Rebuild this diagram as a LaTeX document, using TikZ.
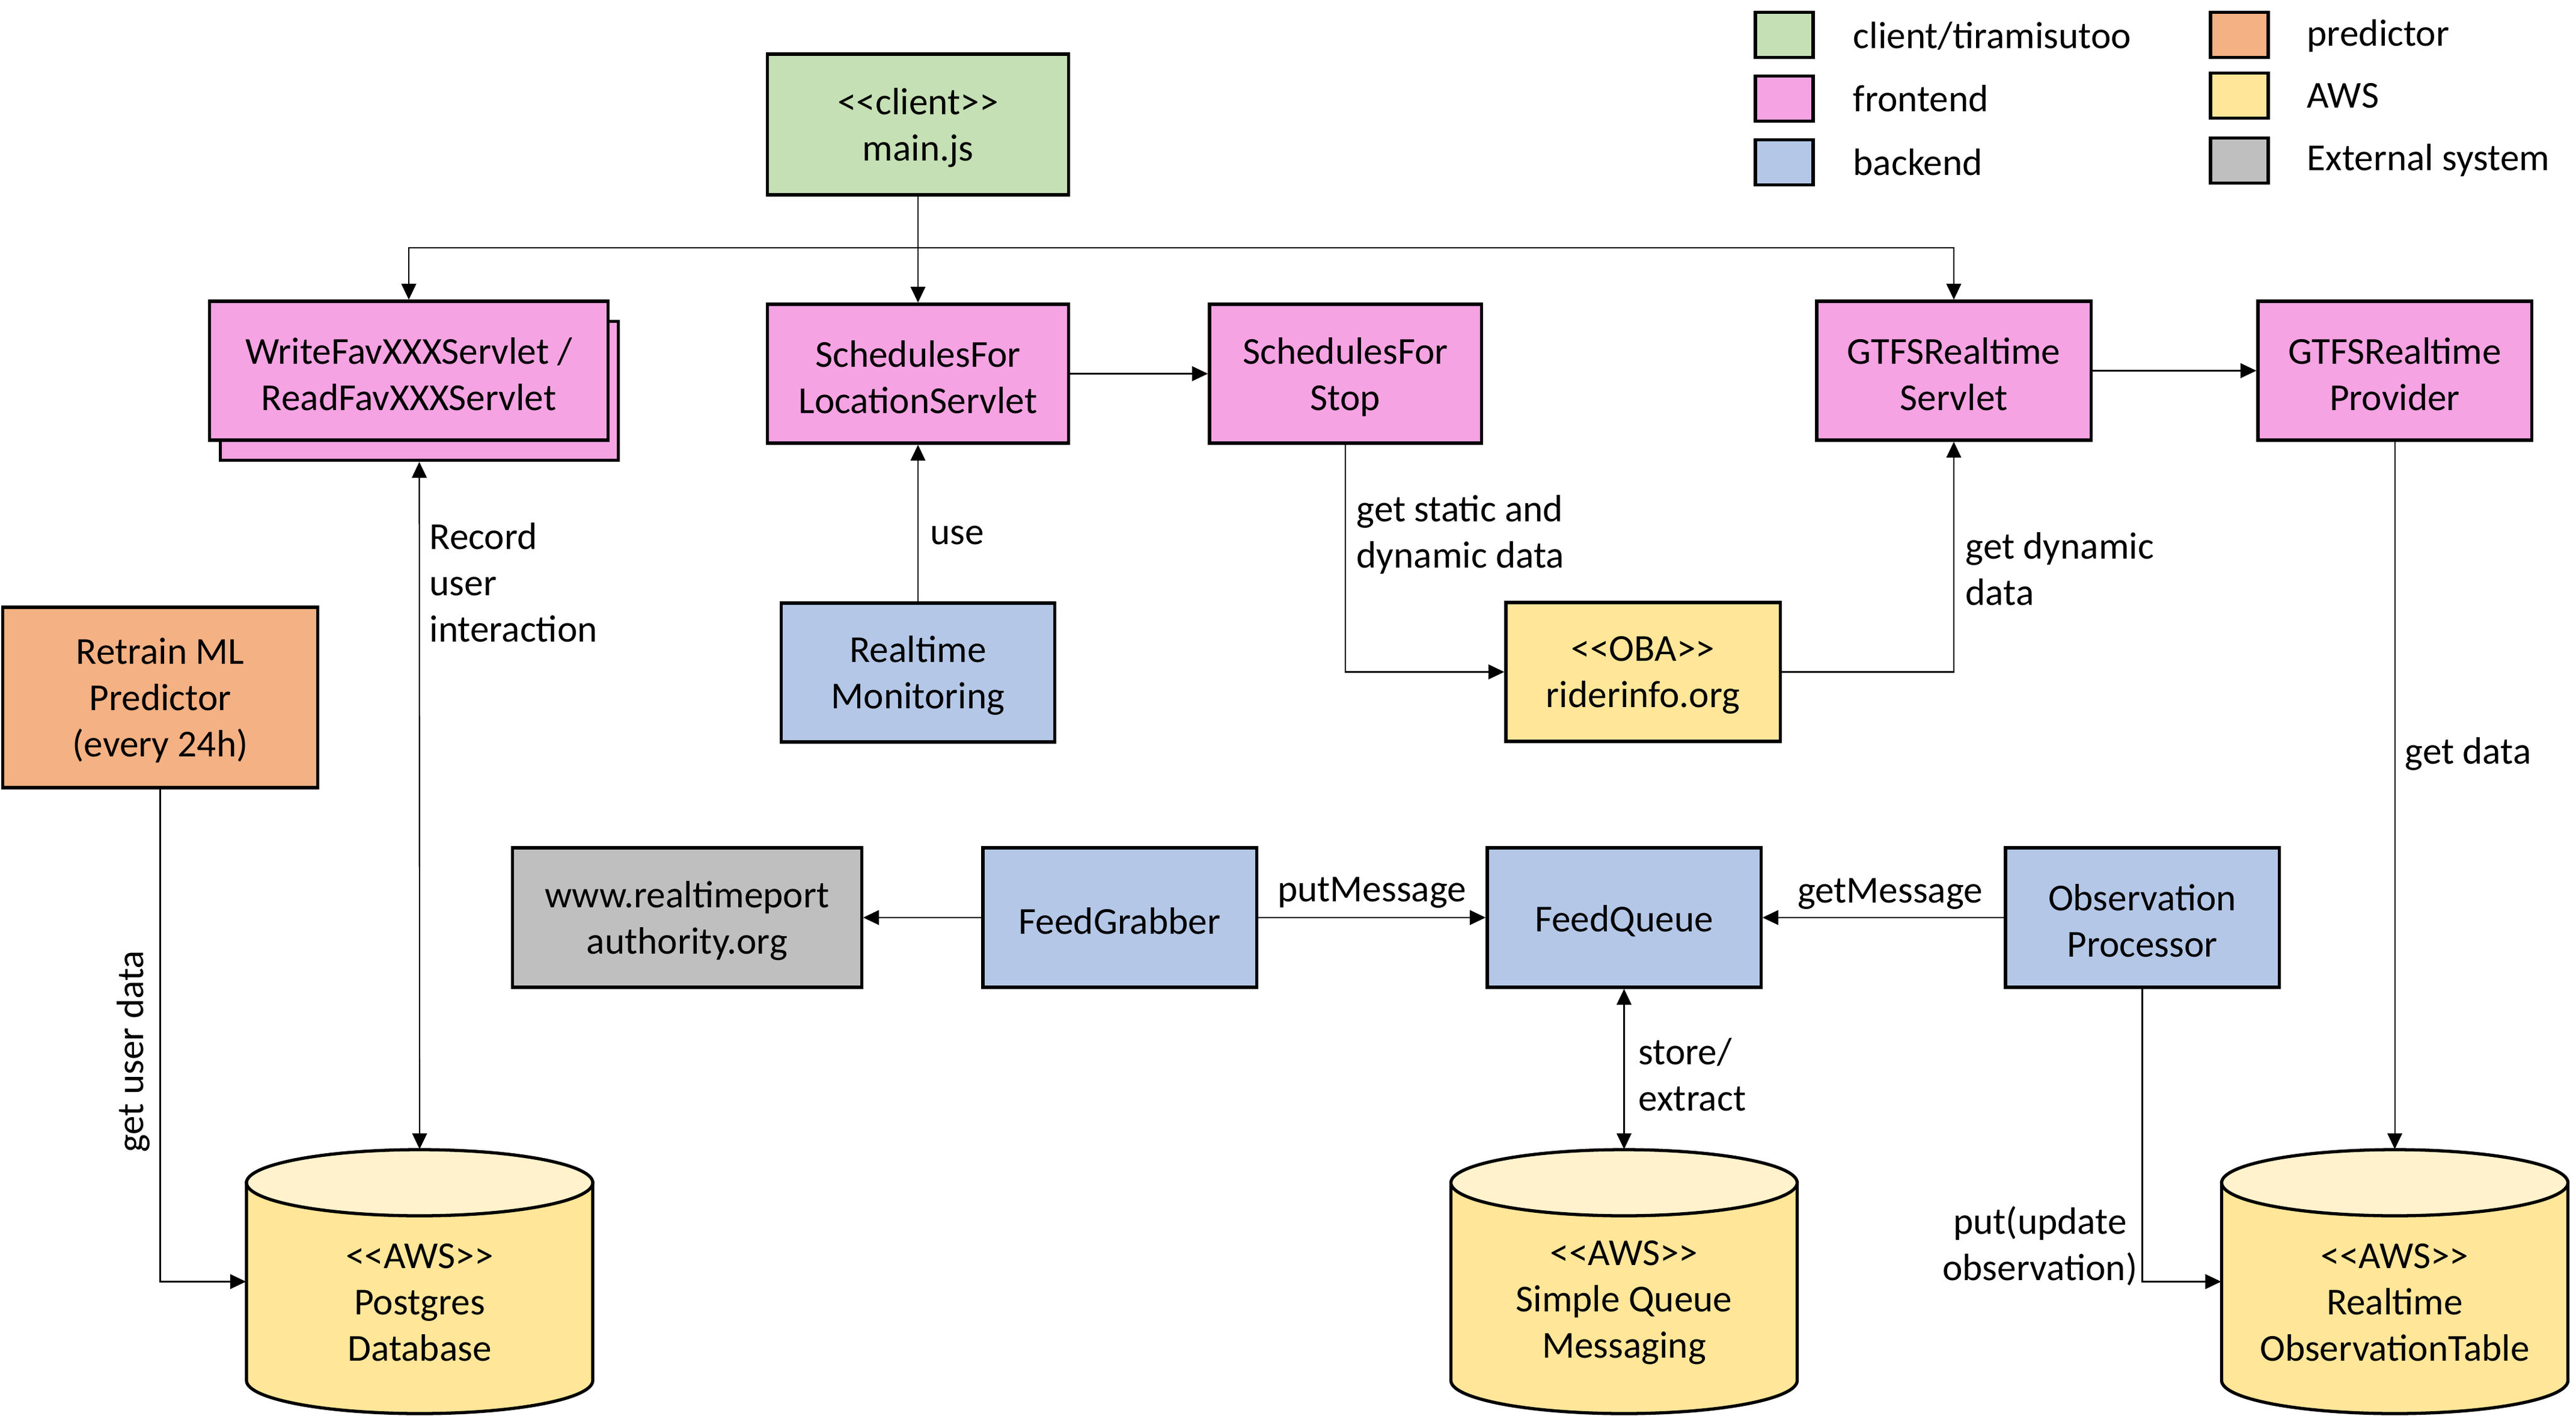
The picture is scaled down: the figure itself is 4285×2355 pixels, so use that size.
\documentclass[tikz,border=0pt]{standalone}
\usepackage{fontspec}
\setmainfont{Carlito}
\usetikzlibrary{arrows.meta}
\definecolor{cgreen}{HTML}{C5E0B4}
\definecolor{cpink}{HTML}{F5A3E3}
\definecolor{cblue}{HTML}{B4C7E7}
\definecolor{corange}{HTML}{F4B183}
\definecolor{cyellow}{HTML}{FFE699}
\definecolor{cyellowtop}{HTML}{FFF2CC}
\definecolor{cgray}{HTML}{BFBFBF}
\newcommand\dlt{<\kern0pt<}
\newcommand\dgt{>\kern0pt>}
\newcommand\dbcyl[1]{%
 \draw[line width=1.5pt, fill=cyellow] ({#1-288},1967) -- ({#1-288},2296) .. controls ({#1-288},2326.4) and ({#1-159},2351) .. (#1,2351) .. controls ({#1+159},2351) and ({#1+288},2326.4) .. ({#1+288},2296) -- ({#1+288},1967) -- cycle;
 \draw[line width=1.5pt, fill=cyellowtop] (#1,1967) ellipse [x radius=288, y radius=55];}
% box with separately placed text: #1 style, #2 name, #3 position, #4 text
\newcommand\bx[4]{\node[box,#1] (#2) at (#3) {}; \node[txt] (#2t) at (#2) {#4};}
\begin{document}
\begin{tikzpicture}[x=0.01cm, y=-0.01cm,
  every node/.style={font=\fontsize{18}{21.9}\selectfont, inner sep=0pt, align=center},
  txt/.style={yshift=-1.5pt},
  box/.style={draw, line width=1.5pt, minimum height=2.31cm, minimum width=4.55cm},
  conn/.style={line width=0.6pt},
  arr/.style={conn, -{Triangle[length=7.5pt,width=7pt]}},
  darr/.style={conn, {Triangle[length=7.5pt,width=7pt]}-{Triangle[length=7.5pt,width=7pt]}},
  lbl/.style={txt, align=left, anchor=west},
  legbox/.style={draw, line width=1.5pt, minimum width=0.96cm, minimum height=0.75cm},
  cylarea/.style={minimum width=5.76cm, minimum height=4.39cm}]
\useasboundingbox (0,0) rectangle (4285,2355);

% legend
\node[legbox, fill=cgreen] (lg1) at (2968,58) {};
\node[legbox, fill=cpink] (lg2) at (2968,164) {};
\node[legbox, fill=cblue] (lg3) at (2968,270) {};
\node[legbox, fill=corange] (lg4) at (3725,58) {};
\node[legbox, fill=cyellow] (lg5) at (3725,159) {};
\node[legbox, fill=cgray] (lg6) at (3725,267) {};
\node[align=left, anchor=west] (lt1) at (3082,60) {client/tiramisutoo};
\node[align=left, anchor=west] (lt2) at (3082,164) {frontend};
\node[align=left, anchor=west] (lt3) at (3082,270) {backend};
\node[align=left, anchor=west] (lt4) at (3837,60) {predictor};
\node[align=left, anchor=west] (lt5) at (3837,159) {AWS};
\node[align=left, anchor=west] (lt6) at (3837,267) {External system};

% boxes
\bx{fill=cgreen, minimum width=5.01cm, minimum height=2.34cm}{main}{1527,207}{\dlt client\dgt\\main.js}
\node[box, fill=cpink, minimum width=6.61cm] (wback) at (697.5,650) {};
\bx{fill=cpink, minimum width=6.62cm}{wfront}{680,616.5}{WriteFavXXXServlet /\\ReadFavXXXServlet}
\bx{fill=cpink, minimum width=5.01cm}{sloc}{1527,621.5}{SchedulesFor\\LocationServlet}
\bx{fill=cpink, minimum width=4.52cm}{sstop}{2238,621.5}{SchedulesFor\\Stop}
\bx{fill=cpink, minimum width=4.56cm}{gserv}{3250,616.5}{GTFSRealtime\\Servlet}
\bx{fill=cpink}{gprov}{3983.5,616.5}{GTFSRealtime\\Provider}
\bx{fill=cblue}{rtmon}{1527,1118.5}{Realtime\\Monitoring}
\bx{fill=corange, minimum width=5.23cm, minimum height=3.0cm}{retrain}{266.5,1160}{Retrain ML\\Predictor\\(every 24h)}
\bx{fill=cyellow, minimum width=4.56cm}{rider}{2733,1117.5}{\dlt OBA\dgt\\riderinfo.org}
\bx{fill=cgray, minimum width=5.8cm, minimum height=2.32cm}{www}{1143,1526}{www.realtimeport\\authority.org}
\bx{fill=cblue, minimum height=2.32cm}{fg}{1862.5,1526}{FeedGrabber}
\bx{fill=cblue, minimum height=2.32cm}{fq}{2701.5,1526}{FeedQueue}
\bx{fill=cblue, minimum height=2.32cm}{op}{3563.5,1526}{Observation\\Processor}

% cylinders
\dbcyl{698}
\dbcyl{2701.5}
\dbcyl{3983.5}
\node[cylarea] (pg) at (698,2131.5) {};
\node[cylarea] (sqs) at (2701.5,2131.5) {};
\node[cylarea] (rtobs) at (3983.5,2131.5) {};
\node[txt] (pgt) at (698,2161) {\dlt AWS\dgt\\Postgres\\Database};
\node[txt] (sqst) at (2701.5,2161) {\dlt AWS\dgt\\Simple Queue\\Messaging};
\node[txt] (rtobst) at (3983.5,2161) {\dlt AWS\dgt\\Realtime\\ObservationTable};

% connectors
\coordinate (bus) at (1527,412);
\draw[conn] (main.south) -- (bus);
\draw[arr] (bus) -| (wfront.north);
\draw[arr] (bus) -- (sloc.north);
\draw[arr] (bus) -| (gserv.north);
\draw[arr] (sloc.east) -- (sstop.west);
\draw[arr] (rtmon.north) -- (sloc.south);
\draw[arr] (sstop.south) |- (rider.west);
\draw[arr] (rider.east) -| (gserv.south);
\draw[arr] (gserv.east) -- (gprov.west);
\draw[arr] (gprov.south) -- (rtobs.north);
\draw[darr] (wback.south) -- (pg.north);
\draw[arr] (retrain.south) |- (pg.west);
\draw[arr] (fg.west) -- (www.east);
\draw[arr] (fg.east) -- (fq.west);
\draw[arr] (op.west) -- (fq.east);
\draw[darr] (fq.south) -- (sqs.north);
\draw[arr] (op.south) |- (rtobs.west);

% labels
\node[lbl] (l1) at (714,963) {Record\\user\\interaction};
\node[lbl] (l2) at (1547,885) {use};
\node[lbl] (l3) at (2256,884) {get static and\\dynamic data};
\node[lbl] (l4) at (3269,941) {get dynamic\\data};
\node[lbl] (l5) at (4000,1249) {get data};
\node[rotate=90] (l6) at (222,1749) {get user data};
\node[txt] (l7) at (2282,1479) {putMessage};
\node[txt] (l8) at (3144,1481) {getMessage};
\node[lbl] (l9) at (2725,1782) {store/\\extract};
\node[txt, anchor=east] (l10) at (3556,2067) {put(update\\observation)};
\end{tikzpicture}
\end{document}
